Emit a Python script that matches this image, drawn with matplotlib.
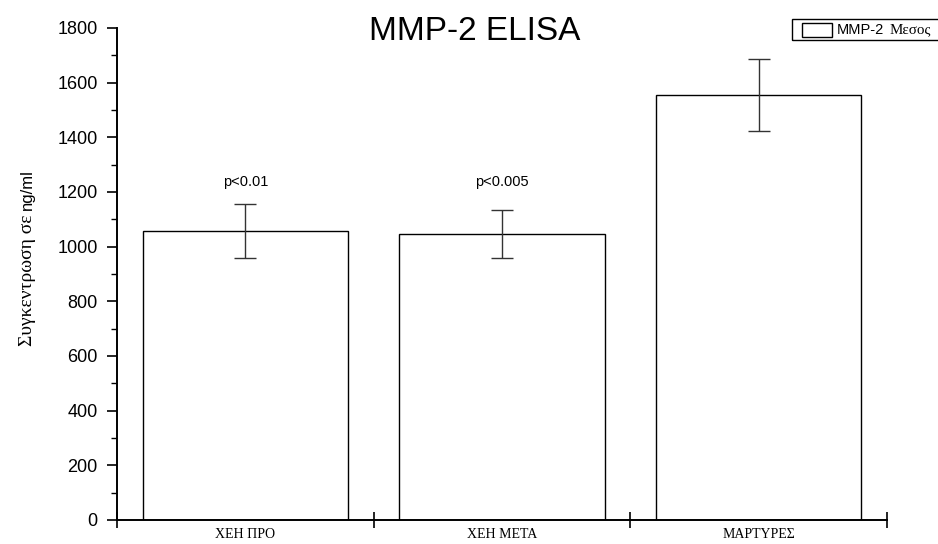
import matplotlib
matplotlib.use("Agg")
import matplotlib.pyplot as plt
from matplotlib.patches import Rectangle
from matplotlib.ticker import MultipleLocator, FixedLocator

# Data
categories = ["ΧΕΗ ΠΡΟ", "ΧΕΗ ΜΕΤΑ", "ΜΑΡΤΥΡΕΣ"]
means = [1058, 1047, 1555]
errors = [98, 88, 133]
pvalues = ["p<0.01", "p<0.005", None]
pvalue_y = 1235

SANS = "Liberation Sans"
SERIF = "Liberation Serif"

fig = plt.figure(figsize=(9.38, 5.44), dpi=100)
ax = fig.add_axes([117 / 938, 24 / 544, 770 / 938, 492 / 544])

xpos = [i + 0.5 for i in range(len(categories))]
ax.bar(xpos, means, width=0.8, color="white", edgecolor="black", linewidth=1.0, zorder=2)
ax.errorbar(xpos, means, yerr=errors, fmt="none", ecolor="#333333",
            elinewidth=1.0, capsize=8, capthick=1.0, zorder=3)

for x, p in zip(xpos, pvalues):
    if p:
        ax.text(x, pvalue_y, p, ha="center", va="center", fontsize=10.5, family=SANS)

ax.set_xlim(0, 3)
ax.set_ylim(0, 1800)

for s in ["top", "right"]:
    ax.spines[s].set_visible(False)
for s in ["left", "bottom"]:
    ax.spines[s].set_linewidth(1.4)

ax.yaxis.set_major_locator(MultipleLocator(200))
ax.yaxis.set_minor_locator(MultipleLocator(100))
ax.tick_params(axis="y", which="major", direction="out", length=7, width=1.2,
               labelsize=13, pad=7)
ax.tick_params(axis="y", which="minor", direction="out", length=4, width=1.0)
for lbl in ax.get_yticklabels():
    lbl.set_family(SANS)

ax.xaxis.set_major_locator(FixedLocator([0, 1, 2, 3]))
ax.xaxis.set_minor_locator(FixedLocator(xpos))
ax.set_xticklabels([])
ax.set_xticklabels(categories, minor=True, family=SERIF, fontsize=10)
ax.tick_params(axis="x", which="major", direction="inout", length=12, width=1.2)
ax.tick_params(axis="x", which="minor", direction="in", length=4, width=1.0, pad=6)

# Title
fig.text(475 / 938, 1 - 31 / 544, "MMP-2 ELISA", ha="center", va="center",
         fontsize=24, family=SANS)

# Y-axis label in two fonts, the unit follows the Greek words
ylab = fig.text(27 / 938, 1 - 346 / 544, "Συγκεντρωση σε", rotation=90,
                ha="center", va="bottom", fontsize=14, family=SERIF)
ax.annotate("ng/ml", xy=(0.5, 1.0), xycoords=ylab, xytext=(0, 3),
            textcoords="offset points", rotation=90, ha="center", va="bottom",
            fontsize=12, family=SANS, annotation_clip=False)

# Legend box (runs off the right edge of the figure)
fig.patches.append(Rectangle((792 / 938, 1 - 40 / 544), 150 / 938, 21 / 544,
                             transform=fig.transFigure, fill=False,
                             edgecolor="black", linewidth=1.0))
fig.patches.append(Rectangle((802 / 938, 1 - 37 / 544), 30 / 938, 14 / 544,
                             transform=fig.transFigure, facecolor="white",
                             edgecolor="black", linewidth=1.0))
leg1 = fig.text(837 / 938, 1 - 29.5 / 544, "MMP-2", ha="left", va="center",
                fontsize=10.5, family=SANS)
ax.annotate("Μεσος", xy=(1.0, 0.5), xycoords=leg1, xytext=(3.5, 0),
            textcoords="offset points", ha="left", va="center",
            fontsize=10.8, family=SERIF, annotation_clip=False)

fig.savefig("out.png", dpi=100)
